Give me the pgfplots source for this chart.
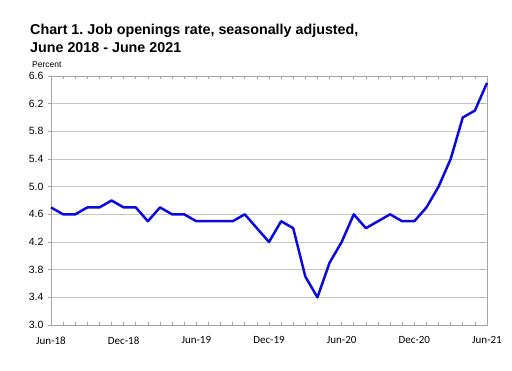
\documentclass[border=0pt]{standalone}
\usepackage{pgfplots}
\pgfplotsset{compat=1.18}
\usepackage{fontspec}
\setmainfont{Liberation Sans}
\newfontfamily\calib{Carlito}
\definecolor{lineblue}{RGB}{10,10,225}
\frenchspacing
\begin{document}
\begin{tikzpicture}
\useasboundingbox (0,0) rectangle (512pt,370pt);
\node[anchor=base west, font=\bfseries\fontsize{14.3}{16}\selectfont, inner sep=0pt] at (30pt,335pt) {Chart 1. Job openings rate, seasonally adjusted,};
\node[anchor=base west, font=\bfseries\fontsize{14.3}{16}\selectfont, inner sep=0pt] at (30pt,317pt) {June 2018 - June 2021};
\node[anchor=base west, font=\fontsize{8.5}{9}\selectfont, inner sep=0pt] at (32pt,302pt) {Percent};
\begin{axis}[
  at={(51pt,45pt)}, anchor=south west,
  scale only axis, width=436pt, height=249pt,
  xmin=0, xmax=36, ymin=3, ymax=6.6,
  ytick={3.0,3.4,3.8,4.2,4.6,5.0,5.4,5.8,6.2,6.6},
  yticklabel style={/pgf/number format/fixed, /pgf/number format/fixed zerofill, /pgf/number format/precision=1},
  /pgf/number format/assume math mode=true,
  xtick={0,6,12,18,24,30,36},
  xticklabels={Jun-18,Dec-18,Jun-19,Dec-19,Jun-20,Dec-20,Jun-21},
  minor xtick={0,1,...,36},
  tick align=inside,
  major tick length=3pt, minor tick length=3pt,
  ytick style={xshift=-3pt, gray!70, line width=0.6pt},
  xtick style={gray!70, line width=0.6pt},
  ymajorgrids,
  grid style={gray!45, line width=0.8pt},
  axis line style={gray!70, line width=0.8pt},
  y tick label style={font=\fontsize{10.5}{11}\selectfont, xshift=-4pt},
  x tick label style={font=\calib\fontsize{11}{12}\selectfont, yshift=-8pt},
  clip=false,
]
\addplot[lineblue, line width=2.5pt, line join=round] coordinates {
(0,4.7)(1,4.6)(2,4.6)(3,4.7)(4,4.7)(5,4.8)(6,4.7)(7,4.7)(8,4.5)(9,4.7)
(10,4.6)(11,4.6)(12,4.5)(13,4.5)(14,4.5)(15,4.5)(16,4.6)(17,4.4)(18,4.2)(19,4.5)
(20,4.4)(21,3.7)(22,3.4)(23,3.9)(24,4.2)(25,4.6)(26,4.4)(27,4.5)(28,4.6)(29,4.5)
(30,4.5)(31,4.7)(32,5.0)(33,5.4)(34,6.0)(35,6.1)(36,6.5)
};
\end{axis}
\end{tikzpicture}
\end{document}
